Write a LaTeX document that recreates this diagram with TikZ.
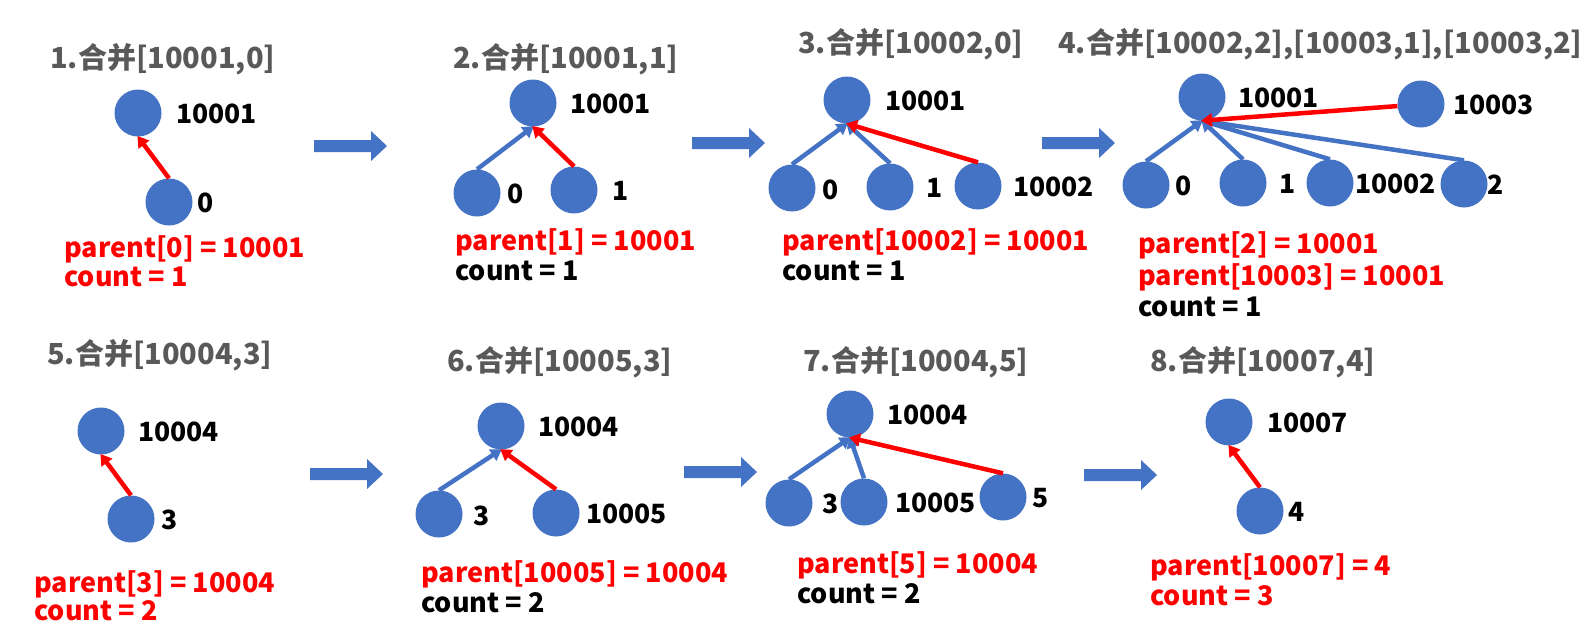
\documentclass[tikz,border=0pt]{standalone}
\usepackage{fontspec}
\setmainfont{Noto Sans CJK SC}
\usetikzlibrary{arrows.meta}
\definecolor{ublue}{HTML}{4472C4}
\definecolor{ured}{HTML}{FF0000}
\definecolor{ugray}{HTML}{595959}
\tikzset{
  vert/.style={circle,fill=ublue,inner sep=0pt,minimum size=47pt},
  lbl/.style={anchor=base west,inner sep=0pt,font=\fontsize{26.5}{30}\selectfont\bfseries},
  ttl/.style={anchor=base west,inner sep=0pt,text=ugray,font=\fontsize{29}{32}\selectfont\bfseries},
  info/.style={anchor=base west,inner sep=0pt,font=\fontsize{27}{30}\selectfont\bfseries},
  redinfo/.style={info,text=ured},
  link/.style={line width=4.5pt,-{Triangle[length=11pt,width=13pt]},shorten >=-1pt},
  bluelink/.style={link,draw=ublue},
  redlink/.style={link,draw=ured},
}
\newcommand\blockarr[2]{%
  \begin{scope}[shift={(#1,#2)}]
    \fill[ublue] (0,-6) -- (57,-6) -- (57,-15) -- (73,0) -- (57,15) -- (57,6) -- (0,6) -- cycle;
  \end{scope}}
\begin{document}
\begin{tikzpicture}[x=1pt,y=-1pt]
\useasboundingbox (0,0) rectangle (1586,633);
% ---------- titles
\node[ttl] (t1) at (50,68) {1.合并[10001,0]};
\node[ttl] (t2) at (453,68) {2.合并[10001,1]};
\node[ttl] (t3) at (798,53) {3.合并[10002,0]};
\node[ttl] (t4) at (1058,53) {4.合并[10002,2],[10003,1],[10003,2]};
\node[ttl] (t5) at (47,364) {5.合并[10004,3]};
\node[ttl] (t6) at (447,371) {6.合并[10005,3]};
\node[ttl] (t7) at (803,371) {7.合并[10004,5]};
\node[ttl] (t8) at (1150,371) {8.合并[10007,4]};
% ---------- block arrows
\blockarr{314}{146}
\blockarr{692}{143}
\blockarr{1042}{143}
\blockarr{310}{474}
\blockarr{684}{472}
\blockarr{1084}{475}
% ---------- panel 1
\node[vert] (a10001) at (138,113) {};
\node[vert] (a0) at (169,202) {};
\node[lbl] (la10001) at (176,123) {10001};
\node[lbl] (la0) at (197,212) {0};
\draw[redlink] (a0.north) -- (a10001.south);
\node[redinfo] (sa1) at (64,257) {parent[0] = 10001};
\node[redinfo] (sa2) at (64,286) {count = 1};
% ---------- panel 2
\node[vert] (b10001) at (533,103) {};
\node[vert] (b0) at (477,193) {};
\node[vert] (b1) at (574,190) {};
\node[lbl] (lb10001) at (570,113) {10001};
\node[lbl] (lb0) at (507,203) {0};
\node[lbl] (lb1) at (612,200) {1};
\draw[bluelink] (b0.north) -- (b10001.south);
\draw[redlink] (b1.north) -- (b10001.south);
\node[redinfo] (sb1) at (455,250) {parent[1] = 10001};
\node[info] (sb2) at (455,280) {count = 1};
% ---------- panel 3
\node[vert] (c10001) at (847,100) {};
\node[vert] (c0) at (792,188) {};
\node[vert] (c1) at (890,187) {};
\node[vert] (c10002) at (978,186) {};
\node[lbl] (lc10001) at (885,110) {10001};
\node[lbl] (lc0) at (822,199) {0};
\node[lbl] (lc1) at (926,197) {1};
\node[lbl] (lc10002) at (1013,196) {10002};
\draw[bluelink] (c0.north) -- (c10001.south);
\draw[bluelink] (c1.north) -- (c10001.south);
\draw[redlink] (c10002.north) -- (c10001.south);
\node[redinfo] (sc1) at (782,250) {parent[10002] = 10001};
\node[info] (sc2) at (782,280) {count = 1};
% ---------- panel 4
\node[vert] (d10001) at (1202,97) {};
\node[vert] (d10003) at (1421,104) {};
\node[vert] (d0) at (1146,185) {};
\node[vert] (d1) at (1243,183) {};
\node[vert] (d10002) at (1330,183) {};
\node[vert] (d2) at (1464,184) {};
\node[lbl] (ld10001) at (1238,107) {10001};
\node[lbl] (ld10003) at (1453,114) {10003};
\node[lbl] (ld0) at (1175,195) {0};
\node[lbl] (ld1) at (1279,193) {1};
\node[lbl] (ld10002) at (1355,193) {10002};
\node[lbl] (ld2) at (1487,194) {2};
\draw[bluelink] (d0.north) -- (d10001.south);
\draw[bluelink] (d1.north) -- (d10001.south);
\draw[bluelink] (d10002.north) -- (d10001.south);
\draw[bluelink] (d2.north) -- (d10001.south);
\draw[redlink] (d10003.185) -- (d10001.south);
\node[redinfo] (sd1) at (1138,253) {parent[2] = 10001};
\node[redinfo] (sd2) at (1138,285) {parent[10003] = 10001};
\node[info] (sd3) at (1138,316) {count = 1};
% ---------- panel 5
\node[vert] (e10004) at (101,431) {};
\node[vert] (e3) at (131,519) {};
\node[lbl] (le10004) at (138,441) {10004};
\node[lbl] (le3) at (161,529) {3};
\draw[redlink] (e3.north) -- (e10004.south);
\node[redinfo] (se1) at (34,592) {parent[3] = 10004};
\node[redinfo] (se2) at (34,620) {count = 2};
% ---------- panel 6
\node[vert] (f10004) at (501,426) {};
\node[vert] (f3) at (439,514) {};
\node[vert] (f10005) at (556,513) {};
\node[lbl] (lf10004) at (538,436) {10004};
\node[lbl] (lf3) at (473,525) {3};
\node[lbl] (lf10005) at (586,523) {10005};
\draw[bluelink] (f3.north) -- (f10004.south);
\draw[redlink] (f10005.north) -- (f10004.south);
\node[redinfo] (sf1) at (421,582) {parent[10005] = 10004};
\node[info] (sf2) at (421,612) {count = 2};
% ---------- panel 7
\node[vert] (g10004) at (850,414) {};
\node[vert] (g3) at (789,503) {};
\node[vert] (g10005) at (864,502) {};
\node[vert] (g5) at (1003,497) {};
\node[lbl] (lg10004) at (887,424) {10004};
\node[lbl] (lg3) at (822,513) {3};
\node[lbl] (lg10005) at (895,512) {10005};
\node[lbl] (lg5) at (1032,507) {5};
\draw[bluelink] (g3.north) -- (g10004.south);
\draw[bluelink] (g10005.north) -- (g10004.south);
\draw[redlink] (g5.north) -- (g10004.south);
\node[redinfo] (sg1) at (797,573) {parent[5] = 10004};
\node[info] (sg2) at (797,603) {count = 2};
% ---------- panel 8
\node[vert] (h10007) at (1229,422) {};
\node[vert] (h4) at (1260,511) {};
\node[lbl] (lh10007) at (1267,432) {10007};
\node[lbl] (lh4) at (1288,521) {4};
\draw[redlink] (h4.north) -- (h10007.south);
\node[redinfo] (sh1) at (1150,575) {parent[10007] = 4};
\node[redinfo] (sh2) at (1150,605) {count = 3};
\end{tikzpicture}
\end{document}
